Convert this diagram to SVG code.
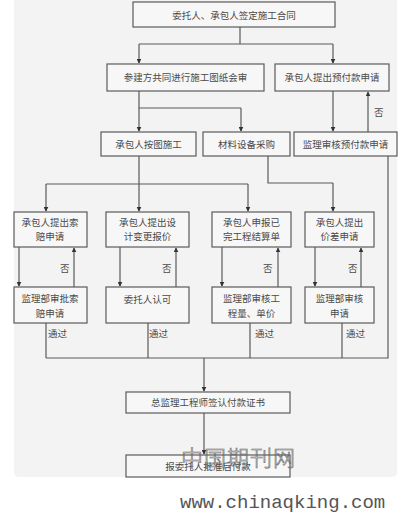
<svg xmlns="http://www.w3.org/2000/svg" width="409" height="516" viewBox="0 0 409 516">
<style>
.bx{fill:#f7f7f7;stroke:#5a5a5a;stroke-width:1.2}
.t{font-family:"Noto Sans CJK SC","Noto Sans CJK JP",sans-serif;font-size:9.5px;fill:#4a4a4a;text-anchor:middle}
.l{font-family:"Noto Sans CJK SC","Noto Sans CJK JP",sans-serif;font-size:9.5px;fill:#4a4a4a}
.c{fill:none;stroke:#5a5a5a;stroke-width:1.2}
.a{fill:none;stroke:#5a5a5a;stroke-width:1.2;marker-end:url(#ah)}
</style>
<defs>
<marker id="ah" viewBox="0 0 8 8" refX="7" refY="4" markerWidth="5" markerHeight="5" orient="auto" markerUnits="userSpaceOnUse">
<path d="M0,0 L8,4 L0,8 Z" fill="#333"/>
</marker>
</defs>
<rect x="0" y="0" width="409" height="516" fill="#ffffff"/>
<path d="M14,0 H397 V472 Q397,477 392,477 H19 Q14,477 14,472 Z" fill="#f3f3f3"/>

<g id="connectors">
<path class="c" d="M240,27 V44 M139,44 H333"/>
<path class="a" d="M139,44 V63"/>
<path class="a" d="M333,44 V63"/>
<path class="c" d="M139,91 V108 H241"/>
<path class="a" d="M139,108 V131"/>
<path class="a" d="M241,108 V131"/>
<path class="a" d="M333,91 V131"/>
<path class="a" d="M368,132 V92"/>
<text class="l" x="374" y="116">否</text>
<path class="c" d="M139,156 V184 M46,184 H248"/>
<path class="a" d="M46,184 V211"/>
<path class="a" d="M139,184 V211"/>
<path class="a" d="M248,184 V211"/>
<path class="c" d="M268,156 V183 H333"/>
<path class="a" d="M333,183 V211"/>
<path class="a" d="M19,247 V286"/>
<path class="a" d="M74,287 V248"/>
<path class="a" d="M120,247 V286"/>
<path class="a" d="M176,287 V248"/>
<path class="a" d="M222,247 V286"/>
<path class="a" d="M278,287 V248"/>
<path class="a" d="M315,247 V286"/>
<path class="a" d="M361,287 V248"/>
<text class="l" x="60" y="272">否</text>
<text class="l" x="162" y="272">否</text>
<text class="l" x="263" y="272">否</text>
<text class="l" x="348" y="272">否</text>
<path class="c" d="M46,323 V358 M148,323 V358 M250,323 V358 M342,323 V358 M46,358 H388 V156"/>
<text class="l" x="48" y="337">通过</text>
<text class="l" x="149" y="337">通过</text>
<text class="l" x="255" y="337">通过</text>
<text class="l" x="346" y="337">通过</text>
<path class="a" d="M204,358 V391"/>
<path class="a" d="M204,413 V454"/>
</g>

<g id="n1"><rect class="bx" x="133" y="2" width="202" height="25" stroke="#333" stroke-width="1.6"/><text class="t" x="234" y="18.5">委托人、承包人签定施工合同</text></g>
<g id="n2"><rect class="bx" x="107" y="64" width="157" height="27"/><text class="t" x="185.5" y="81">参建方共同进行施工图纸会审</text></g>
<g id="n3"><rect class="bx" x="275" y="64" width="114" height="27"/><text class="t" x="332" y="81">承包人提出预付款申请</text></g>
<g id="n4"><rect class="bx" x="101" y="132" width="95" height="24"/><text class="t" x="148.5" y="147.5">承包人按图施工</text></g>
<g id="n5"><rect class="bx" x="203" y="132" width="87" height="24"/><text class="t" x="246.5" y="147.5">材料设备采购</text></g>
<g id="n6"><rect class="bx" x="294" y="132" width="103" height="24"/><text class="t" x="345.5" y="147.5">监理审核预付款申请</text></g>

<g id="n7"><rect class="bx" x="14" y="212" width="73" height="35"/><text class="t" x="50" y="226">承包人提出索</text><text class="t" x="50" y="240">赔申请</text></g>
<g id="n8"><rect class="bx" x="106" y="212" width="83" height="35"/><text class="t" x="147.5" y="226">承包人提出设</text><text class="t" x="147.5" y="240">计变更报价</text></g>
<g id="n9"><rect class="bx" x="212" y="212" width="79" height="35"/><text class="t" x="251.5" y="226">承包人申报已</text><text class="t" x="251.5" y="240">完工程结算单</text></g>
<g id="n10"><rect class="bx" x="305" y="212" width="69" height="35"/><text class="t" x="339.5" y="226">承包人提出</text><text class="t" x="339.5" y="240">价差申请</text></g>

<g id="n11"><rect class="bx" x="14" y="287" width="73" height="36"/><text class="t" x="50" y="302">监理部审批索</text><text class="t" x="50" y="317">赔申请</text></g>
<g id="n12"><rect class="bx" x="106" y="287" width="83" height="36"/><text class="t" x="147.5" y="303">委托人认可</text></g>
<g id="n13"><rect class="bx" x="212" y="287" width="79" height="36"/><text class="t" x="251.5" y="302">监理部审核工</text><text class="t" x="251.5" y="317">程量、单价</text></g>
<g id="n14"><rect class="bx" x="305" y="287" width="69" height="36"/><text class="t" x="339.5" y="302">监理部审核</text><text class="t" x="339.5" y="317">申请</text></g>

<g id="n15"><rect class="bx" x="126" y="392" width="164" height="21"/><text class="t" x="208" y="406">总监理工程师签认付款证书</text></g>
<g id="n16"><rect class="bx" x="126" y="455" width="164" height="22"/><text class="t" x="208" y="470">报委托人批准后付款</text></g>

<text x="181" y="466" font-family="'Noto Sans CJK SC',sans-serif" font-size="22" font-weight="300" fill="none" stroke="#666" stroke-width="0.6" letter-spacing="1">中国期刊网</text>
<text x="180" y="508" font-family="'Liberation Mono',monospace" font-size="19" fill="#555">www.chinaqking.com</text>
</svg>
